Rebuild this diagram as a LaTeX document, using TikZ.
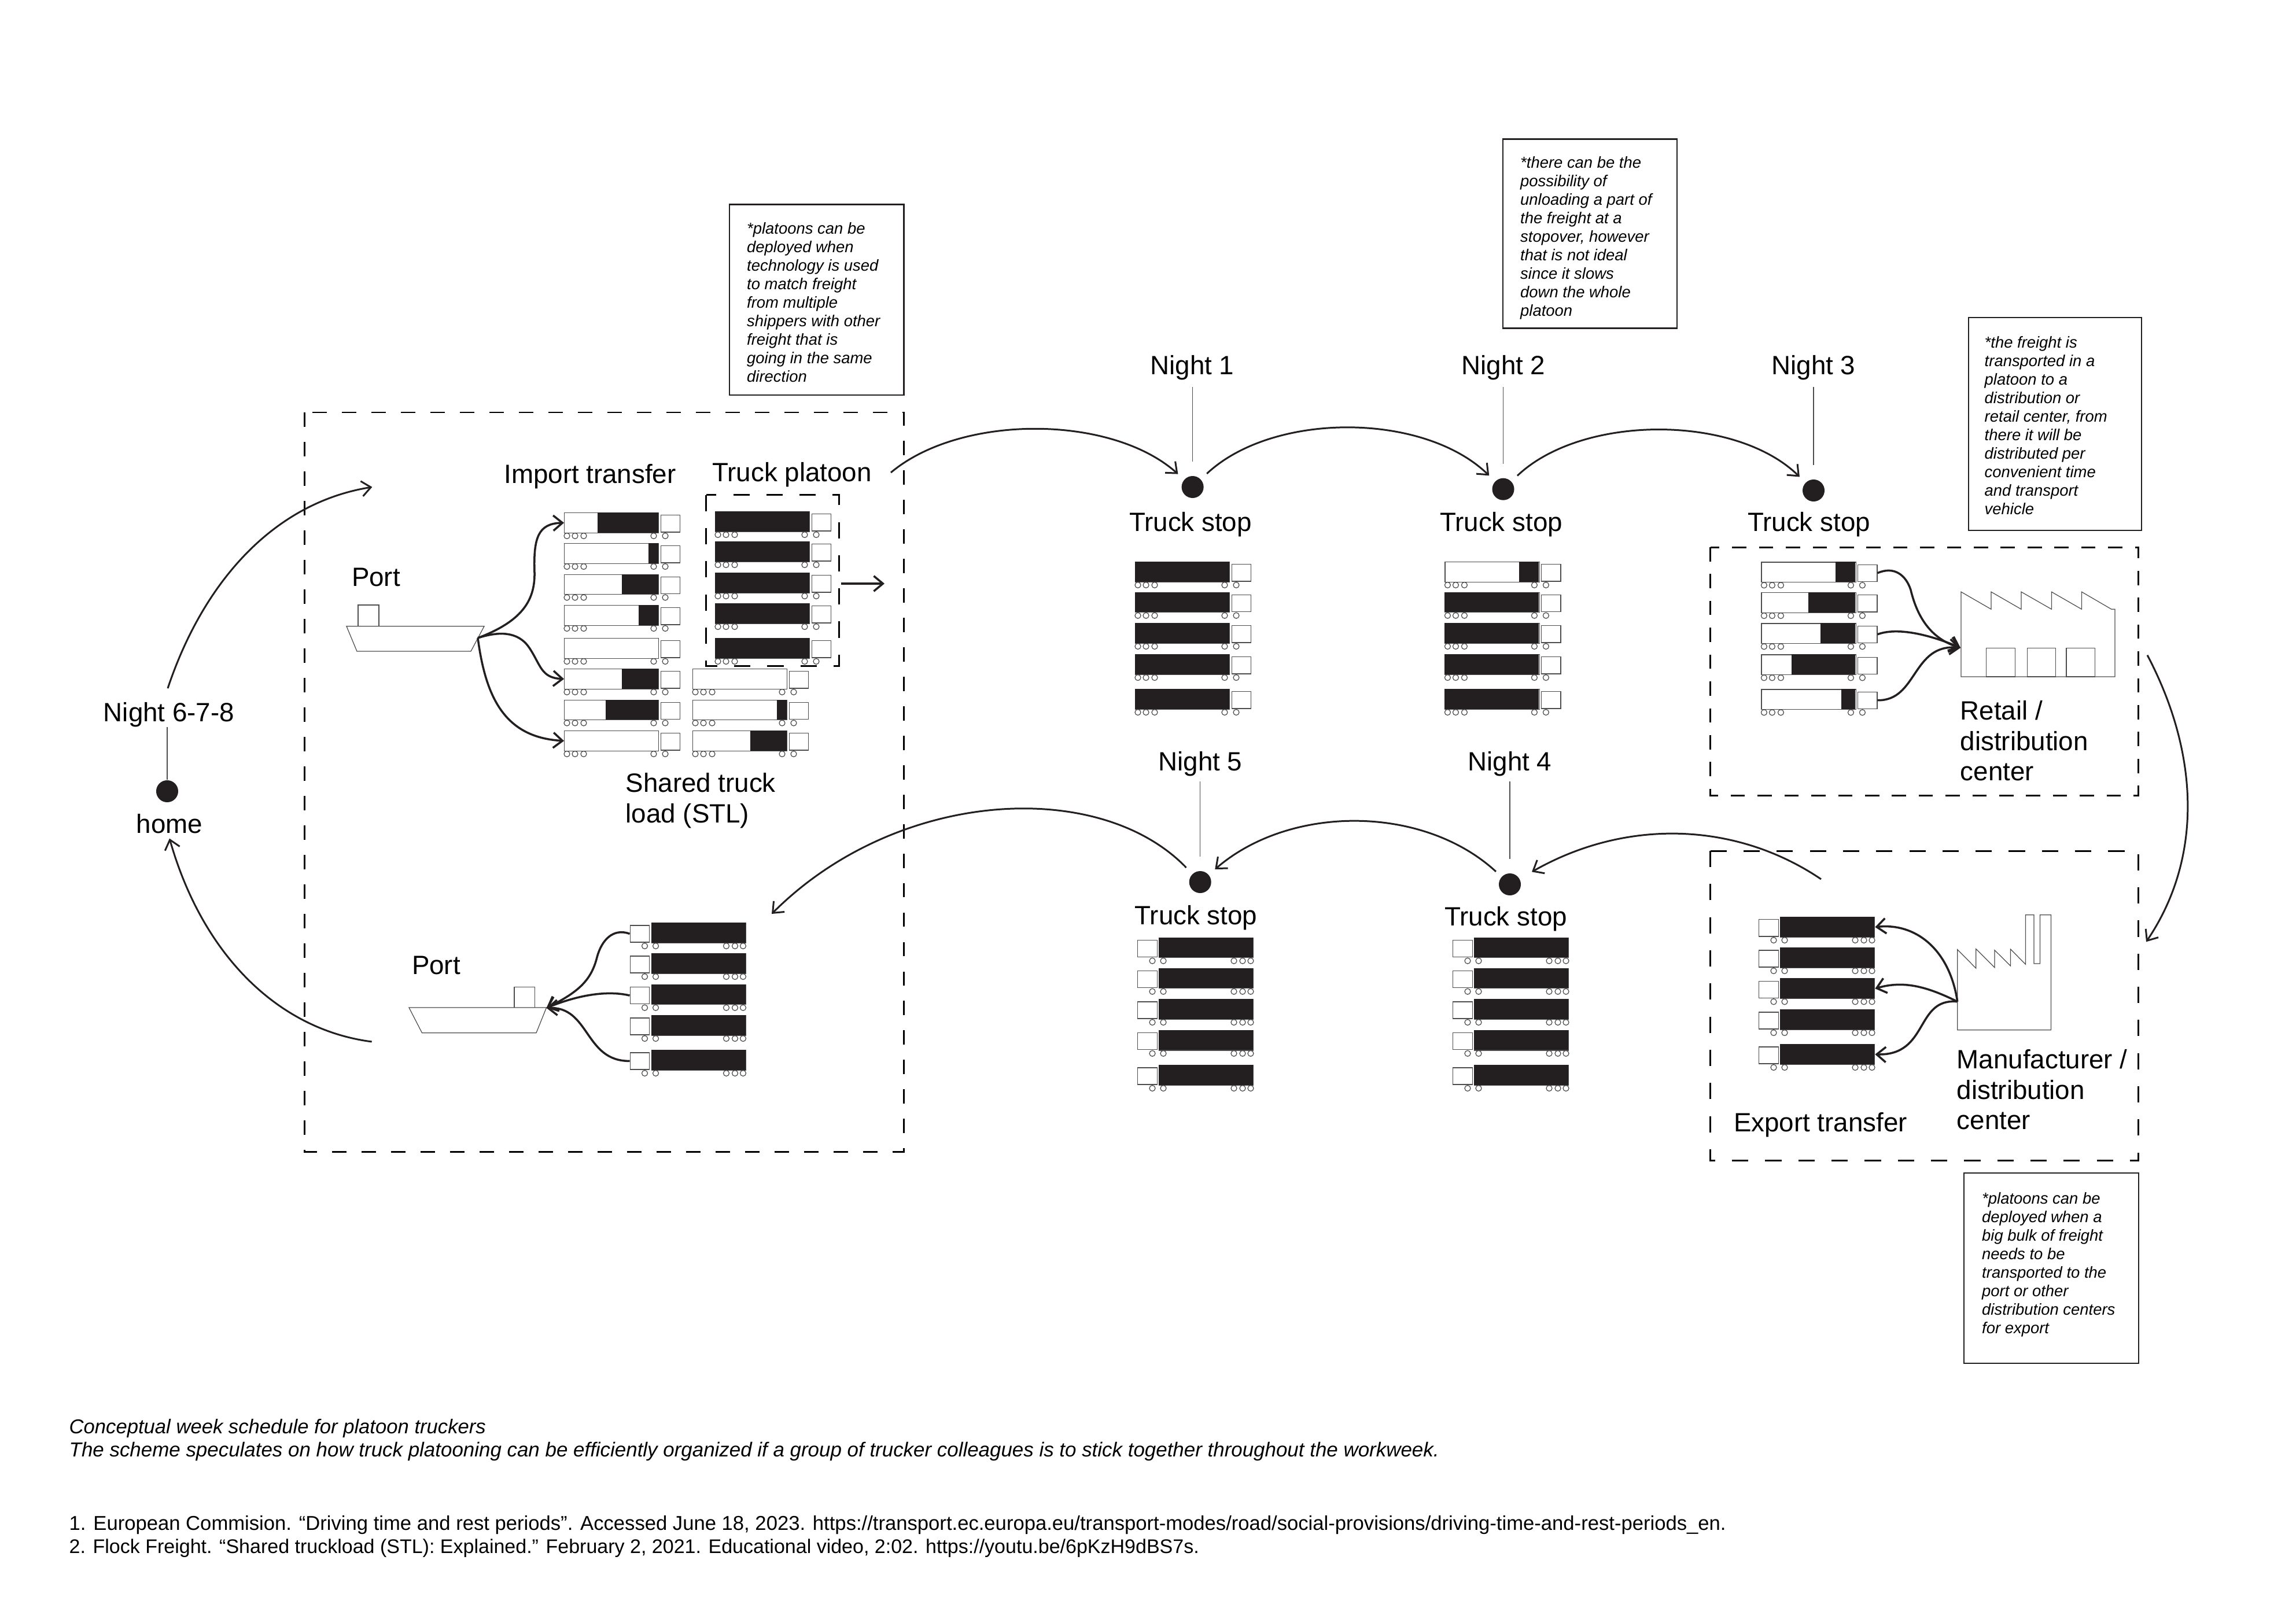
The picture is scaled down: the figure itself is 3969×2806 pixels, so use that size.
\documentclass[tikz,border=0pt]{standalone}
\usepackage{fontspec}
\setmainfont{Liberation Sans}
\usetikzlibrary{arrows.meta}
\definecolor{ink}{HTML}{231F20}
\definecolor{edge}{HTML}{4D4D4D}

\tikzset{
    lbl/.style={font=\fontsize{13}{14.93}\selectfont, inner sep=0pt, anchor=base},
    lblblock/.style={font=\fontsize{13}{14.93}\selectfont, inner sep=0pt, anchor=north west, align=left},
    notetext/.style={font=\fontsize{7.8}{9.1}\selectfont\itshape, inner sep=0pt, anchor=north west, align=left},
    foot/.style={font=\fontsize{9.85}{12}\selectfont, inner sep=0pt, anchor=base west},
    notebox/.style={draw=ink, line width=0.7pt},
    dotstop/.style={circle, fill=ink, inner sep=0pt, minimum size=0.38cm},
    flow/.style={draw=ink, line width=0.85pt, -{Straight Barb[length=4.5pt,width=7.5pt,line width=0.85pt]}},
    feed/.style={draw=ink, line width=1pt, -{Straight Barb[length=4.5pt,width=7.5pt,line width=1pt]}},
    tick/.style={draw=edge, line width=0.4pt},
    outline/.style={draw=edge, line width=0.35pt},
    zonebig/.style={draw=black, line width=0.85pt, dash pattern=on 7.1pt off 7.4pt},
    zonetrans/.style={draw=black, line width=0.85pt, dash pattern=on 7pt off 6.2pt},
    zonewide/.style={draw=black, line width=0.85pt, dash pattern=on 8pt off 8.3pt},
    trailer/.style={outline, inner sep=0pt, anchor=north west, minimum width=1.63cm, minimum height=0.345cm},
    cab/.style={outline, inner sep=0pt, anchor=south west, minimum width=0.335cm, minimum height=0.29cm}
}

% truck heading right: name, x, y, black load
\newcommand{\truckR}[4]{
    \node[trailer] (#1) at (#2,#3) {};
    \fill[ink] (#2+163-#4,#3) rectangle (#2+163,#3+34.5);
    \node[cab] (#1c) at (#2+166.5,#3+34.5) {};
    \foreach \w in {5,19,34,155,175}
        \draw[outline] (#2+\w,#3+40.5) circle (5);
}
% truck heading left, always full: name, x, y
\newcommand{\truckL}[3]{
    \node[trailer] (#1) at (#2,#3) {};
    \fill[ink] (#2,#3) rectangle (#2+163,#3+34.5);
    \node[cab] (#1c) at (#2-37,#3+34.5) {};
    \foreach \w in {-11,8,130,145,159}
        \draw[outline] (#2+\w,#3+40.5) circle (5);
}

\begin{document}
\begin{tikzpicture}[x=0.01cm,y=-0.01cm]
    \useasboundingbox (0,0) rectangle (3969,2806);

    \begin{scope}
        % Import zone
        \draw[zonebig] (526,713) rectangle (1562,1991);
        \node[lbl] (portin) at (650,1013) {Port};
        \node[lbl] (imptxt) at (1020,835) {Import transfer};
        \node[lbl] (plttxt) at (1369,832) {Truck platoon};
        \node[lblblock] (stltxt) at (1081,1336) {Shared truck\\load (STL)};

        % Ship
        \draw[outline] (599,1082.7) -- (837,1082.7) -- (814,1126) -- (617,1126) -- cycle;
        \draw[outline] (619,1082.7) -- (619,1046) -- (655,1046) -- (655,1082.7);
        \coordinate (shipout) at (826,1103);

        % Trucks
        \truckR{im1}{975}{886}{105}
        \truckR{im2}{975}{939}{17}
        \truckR{im3}{975}{992.5}{63}
        \truckR{im4}{975}{1046}{34}
        \truckR{im5}{975}{1103}{0}
        \truckR{im6}{975}{1156}{63}
        \truckR{im7}{975}{1209.5}{91}
        \truckR{im8}{975}{1263}{0}
        \truckR{st1}{1197}{1156}{0}
        \truckR{st2}{1197}{1209.5}{17}
        \truckR{st3}{1197}{1263}{63}
        \foreach \n/\y in {1/884,2/936,3/990,4/1043,5/1103} {
            \truckR{pl\n}{1236}{\y}{163}
        }

        % Platoon
        \draw[zonewide] (1220.5,855.7) rectangle (1450,1151);
        \coordinate (plout) at (1453.6,1009);
        \coordinate (plend) at (1529,1009);
        \draw[feed] (plout) -- (plend);

        % Connect ship to trucks
        \draw[feed] (shipout) .. controls (900,1075) and (925,1040) .. (924,990) .. controls (922,930) and (930,905) .. (im1.west);
        \draw[feed] (shipout) .. controls (860,1092) and (895,1090) .. (915,1120) .. controls (935,1150) and (935,1172) .. (im6.west);
        \draw[feed] (shipout) .. controls (840,1210) and (875,1275) .. (im8.west);

        % Return to port
        \node[lbl] (portex) at (754,1684) {Port};
        \draw[outline] (707,1742) -- (944.6,1742) -- (927,1785.7) -- (729.5,1785.7) -- cycle;
        \draw[outline] (889,1742) -- (889,1706.7) -- (924.5,1706.7) -- (924.5,1742);
        \coordinate (shipin) at (944.6,1742.7);
        \foreach \n/\y in {1/1595,2/1648,3/1701.7,4/1755,5/1815} {
            \truckL{pt\n}{1125.5}{\y}
        }
        \draw[feed] (pt1c.west) .. controls (1060,1604) and (1040,1625) .. (1032,1655) .. controls (1022,1695) and (1000,1715) .. (shipin);
        \draw[feed] (pt3c.west) .. controls (1050,1712) and (1000,1720) .. (shipin);
        \draw[feed] (pt5c.west) .. controls (1010,1835) and (1020,1740) .. (shipin);
    \end{scope}

    \begin{scope}
        % Home
        \node[dotstop] (home) at (289,1368) {};
        \node[lbl] (nighthome) at (292,1247) {Night 6-7-8};
        \node[lbl] (hometxt) at (293,1440) {home};
        \draw[tick] (nighthome.south -| home) -- (home);
        \coordinate (upstart) at (290,1190);
        \coordinate (upend) at (643.4,842);
        \coordinate (downstart) at (642.7,1801);
        \coordinate (downend) at (293,1449.6);
        \draw[flow] (upstart) .. controls (350,1010) and (470,870) .. (upend);
        \draw[flow] (downstart) .. controls (480,1780) and (350,1650) .. (downend);
    \end{scope}

    \begin{scope}
        % Stops going out
        \node[dotstop] (s1) at (2061.6,842) {};
        \node[dotstop] (s2) at (2598.5,845.7) {};
        \node[dotstop] (s3) at (3135,848) {};
        \node[lbl] (n1) at (2061,647) {Night 1};
        \node[lbl] (n2) at (2599,647) {Night 2};
        \node[lbl] (n3) at (3135,647) {Night 3};
        \node[lbl] (t1) at (2058,918) {Truck stop};
        \node[lbl] (t2) at (2595,918) {Truck stop};
        \node[lbl] (t3) at (3127,918) {Truck stop};
        \foreach \s in {1,2,3}
            \draw[tick, shorten <=0.12cm, shorten >=0.24cm] (n\s.south -| s\s) -- (s\s);

        \coordinate (zoneout) at (1540,817);
        \draw[flow, shorten >=0.14cm] (zoneout) .. controls (1660,716) and (1920,716) .. (s1);
        \draw[flow, shorten <=0.14cm, shorten >=0.14cm] (s1) .. controls (2200,712) and (2460,712) .. (s2);
        \draw[flow, shorten <=0.14cm, shorten >=0.14cm] (s2) .. controls (2735,716) and (3000,716) .. (s3);

        \foreach \n/\y in {1/971,2/1023.7,3/1077,4/1131,5/1191} {
            \truckR{a\n}{1962}{\y}{163}
        }
        \truckR{b1}{2497.4}{971}{34}
        \foreach \n/\y in {2/1023.7,3/1077,4/1131,5/1191} {
            \truckR{b\n}{2497.4}{\y}{163}
        }
    \end{scope}

    \begin{scope}
        % Retail zone
        \draw[zonetrans] (2956.6,946) rectangle (3696,1375);
        \truckR{r1}{3044.4}{971.3}{34}
        \truckR{r2}{3044.4}{1024}{81.5}
        \truckR{r3}{3044.4}{1077.3}{60.6}
        \truckR{r4}{3044.4}{1131.3}{110.6}
        \truckR{r5}{3044.4}{1191.3}{24.3}
        \node[lblblock] (rettxt) at (3388,1211) {Retail /\\distribution\\center};

        % Retail building
        \draw[outline] (3390,1170) -- (3390,1023.3) -- (3442,1053.3) -- (3442,1023.3) -- (3494,1053.3) -- (3494,1023.3) -- (3546.4,1053.3) -- (3546.4,1023.3) -- (3598.5,1053.3) -- (3598.5,1023.3) -- (3650,1053.3) -- (3656,1053.3) -- (3656,1170) -- cycle;
        \draw[outline] (3433.7,1170) rectangle (3483.7,1120.3);
        \draw[outline] (3504.6,1170) rectangle (3553.6,1120.3);
        \draw[outline] (3572,1170) rectangle (3621.4,1120.3);

        \coordinate (retin) at (3389,1120);
        \draw[feed] (r1c.east) .. controls (3275,978) and (3295,995) .. (3303,1020) .. controls (3315,1070) and (3340,1105) .. (retin);
        \draw[feed] (r3c.east) .. controls (3280,1084) and (3335,1097) .. (retin);
        \draw[feed] (r5c.east) .. controls (3315,1212) and (3305,1112) .. (retin);

        % Between the zones
        \coordinate (retout) at (3712,1132.7);
        \coordinate (expin) at (3710,1628.3);
        \draw[flow] (retout) .. controls (3800,1300) and (3810,1480) .. (expin);
    \end{scope}

    \begin{scope}
        % Export zone
        \draw[zonewide] (2956.6,1471) rectangle (3696,2006.7);
        \foreach \n/\y in {1/1585,2/1638,3/1691.3,4/1745,5/1805} {
            \truckL{e\n}{3077}{\y}
        }
        \node[lbl] (exptxt) at (3147,1956.5) {Export transfer};
        \node[lblblock] (mantxt) at (3382,1814) {Manufacturer /\\distribution\\center};

        % Factory
        \draw[outline] (3383.7,1780.7) -- (3383.7,1641.7) -- (3415.8,1674) -- (3415.8,1640.7) -- (3448,1672.7) -- (3448,1642.7) -- (3475.5,1670) -- (3475.5,1641) -- (3501.5,1667.3) -- (3501.5,1581.7) -- (3516,1581.7) -- (3516,1666) -- (3526.5,1666) -- (3526.5,1581.7) -- (3545.4,1581.7) -- (3545.4,1780.7) -- cycle;

        \coordinate (facout) at (3383.7,1731.7);
        \draw[feed] (facout) .. controls (3370,1640) and (3310,1595) .. (e1.east);
        \draw[feed] (facout) .. controls (3330,1705) and (3290,1695) .. (e3.east);
        \draw[feed] (facout) .. controls (3310,1725) and (3335,1825) .. (e5.east);
    \end{scope}

    \begin{scope}
        % Stops coming back
        \node[dotstop] (s4) at (2610,1529) {};
        \node[dotstop] (s5) at (2074.7,1525) {};
        \node[lbl] (n4) at (2610,1332) {Night 4};
        \node[lbl] (n5) at (2075,1332) {Night 5};
        \node[lbl] (t4) at (2603,1600) {Truck stop};
        \node[lbl] (t5) at (2067.5,1598) {Truck stop};
        \foreach \s in {4,5}
            \draw[tick, shorten <=0.09cm, shorten >=0.24cm] (n\s.south -| s\s) -- (s\s);

        \foreach \n/\y in {1/1620.7,2/1673.7,3/1727,4/1780.8,5/1841} {
            \truckL{c\n}{2003}{\y}
        }
        \foreach \n/\y in {1/1620.7,2/1673.7,3/1727,4/1780.8,5/1841} {
            \truckL{d\n}{2548}{\y}
        }

        \coordinate (exout) at (3148,1520);
        \coordinate (zonein) at (1334,1580);
        \draw[flow, shorten >=0.24cm] (exout) .. controls (3000,1420) and (2810,1415) .. (s4);
        \draw[flow, shorten <=0.13cm, shorten >=0.14cm] (s4) .. controls (2460,1391) and (2230,1391) .. (s5);
        \draw[flow, shorten <=0.15cm] (s5) .. controls (1900,1344) and (1550,1364) .. (zonein);
    \end{scope}

    \begin{scope}
        % Notes
        \draw[notebox] (1261,353.6) rectangle (1562.7,683);
        \node[notetext] (note1) at (1290.5,383.6) {*platoons can be\\deployed when\\technology is used\\to match freight\\from multiple\\shippers with other\\freight that is\\going in the same\\direction};

        \draw[notebox] (2598,240.5) rectangle (2899,567.5);
        \node[notetext] (note2) at (2627.5,269.5) {*there can be the\\possibility of\\unloading a part of\\the freight at a\\stopover, however\\that is not ideal\\since it slows\\down the whole\\platoon};

        \draw[notebox] (3403,549) rectangle (3702,917);
        \node[notetext] (note3) at (3430,581) {*the freight is\\transported in a\\platoon to a\\distribution or\\retail center, from\\there it will be\\distributed per\\convenient time\\and transport\\vehicle};

        \draw[notebox] (3395,2028) rectangle (3697,2357);
        \node[notetext] (note4) at (3425.5,2061) {*platoons can be\\deployed when a\\big bulk of freight\\needs to be\\transported to the\\port or other\\distribution centers\\for export};
    \end{scope}

    \begin{scope}
        % Caption and sources
        \node[foot] (cap1) at (119,2478.3) {\itshape Conceptual week schedule for platoon truckers};
        \node[foot, font=\fontsize{9.93}{12}\selectfont] (cap2) at (119,2518) {\itshape The scheme speculates on how truck platooning can be efficiently organized if a group of trucker colleagues is to stick together throughout the workweek.};
        \node[foot] (src1) at (119,2645) {1. European Commision. “Driving time and rest periods”. Accessed June 18, 2023. https://transport.ec.europa.eu/transport-modes/road/social-provisions/driving-time-and-rest-periods\_en.};
        \node[foot, font=\fontsize{9.67}{12}\selectfont] (src2) at (119,2685.7) {2. Flock Freight. “Shared truckload (STL): Explained.” February 2, 2021. Educational video, 2:02. https://youtu.be/6pKzH9dBS7s.};
    \end{scope}
\end{tikzpicture}
\end{document}
